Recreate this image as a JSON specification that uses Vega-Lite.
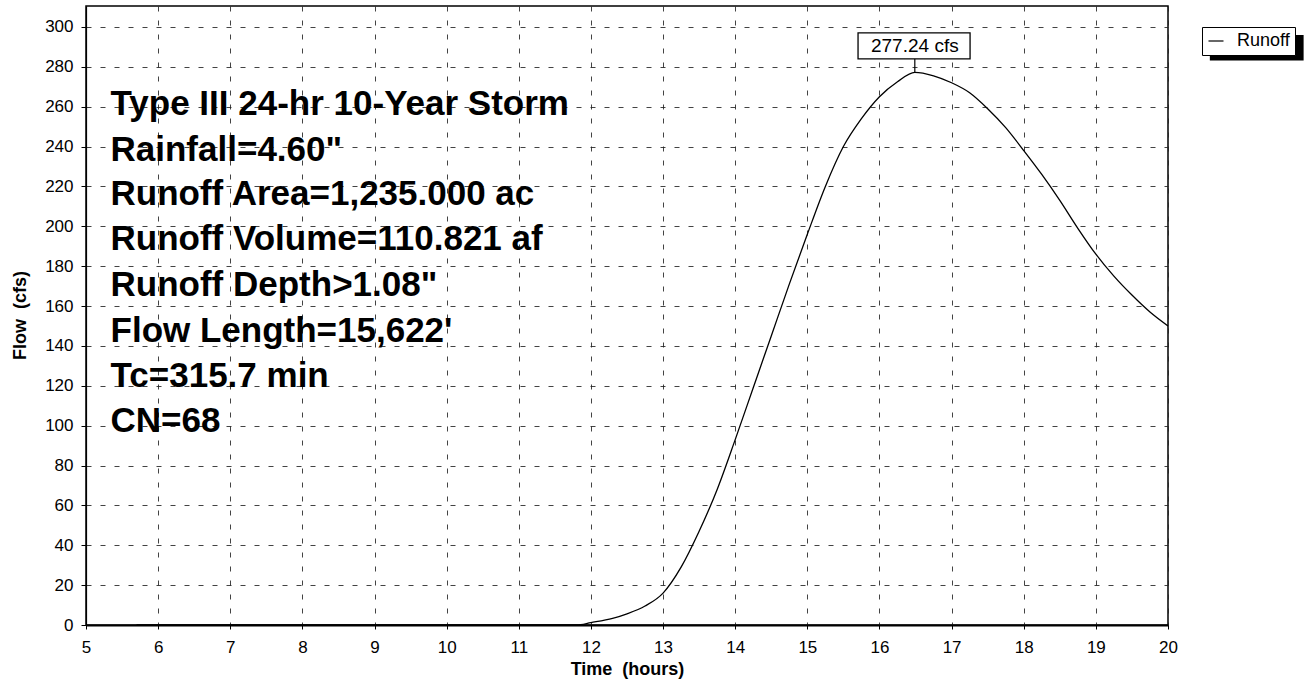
{
  "$schema": "https://vega.github.io/schema/vega-lite/v6.json",
  "width": 1082,
  "height": 619,
  "autosize": {"type": "none"},
  "padding": {"left": 86, "top": 6, "right": 136, "bottom": 58},
  "background": "#ffffff",
  "config": {
    "font": "Liberation Sans",
    "view": {"stroke": "#000000", "strokeWidth": 1.5},
    "axis": {
      "labelFont": "Liberation Sans",
      "titleFont": "Liberation Sans",
      "labelColor": "#000000",
      "titleColor": "#000000",
      "domainColor": "#000000",
      "tickColor": "#000000",
      "gridColor": "#222222",
      "gridDash": [5, 9],
      "gridOpacity": 0.85,
      "gridWidth": 1
    }
  },
  "datasets": {
    "curve": [
      {"t": 5.7, "flow": 0, "series": "Runoff"},
      {"t": 11.8, "flow": 0, "series": "Runoff"},
      {"t": 12.0, "flow": 1.2, "series": "Runoff"},
      {"t": 12.3, "flow": 3.3, "series": "Runoff"},
      {"t": 12.5, "flow": 5.6, "series": "Runoff"},
      {"t": 12.75, "flow": 9.5, "series": "Runoff"},
      {"t": 13.0, "flow": 16, "series": "Runoff"},
      {"t": 13.25, "flow": 29, "series": "Runoff"},
      {"t": 13.5, "flow": 47, "series": "Runoff"},
      {"t": 13.75, "flow": 68, "series": "Runoff"},
      {"t": 14.0, "flow": 93, "series": "Runoff"},
      {"t": 14.25, "flow": 119, "series": "Runoff"},
      {"t": 14.5, "flow": 145, "series": "Runoff"},
      {"t": 14.75, "flow": 171, "series": "Runoff"},
      {"t": 15.0, "flow": 196, "series": "Runoff"},
      {"t": 15.25, "flow": 220, "series": "Runoff"},
      {"t": 15.5, "flow": 240, "series": "Runoff"},
      {"t": 15.75, "flow": 254, "series": "Runoff"},
      {"t": 16.0, "flow": 265, "series": "Runoff"},
      {"t": 16.25, "flow": 272.5, "series": "Runoff"},
      {"t": 16.49, "flow": 277.24, "series": "Runoff"},
      {"t": 16.75, "flow": 275.5, "series": "Runoff"},
      {"t": 17.0, "flow": 272, "series": "Runoff"},
      {"t": 17.25, "flow": 267, "series": "Runoff"},
      {"t": 17.5, "flow": 259, "series": "Runoff"},
      {"t": 17.75, "flow": 249.5, "series": "Runoff"},
      {"t": 18.0, "flow": 238, "series": "Runoff"},
      {"t": 18.25, "flow": 226, "series": "Runoff"},
      {"t": 18.5, "flow": 213, "series": "Runoff"},
      {"t": 18.75, "flow": 199, "series": "Runoff"},
      {"t": 19.0, "flow": 186, "series": "Runoff"},
      {"t": 19.25, "flow": 175, "series": "Runoff"},
      {"t": 19.5, "flow": 165.5, "series": "Runoff"},
      {"t": 19.75, "flow": 157, "series": "Runoff"},
      {"t": 20.0, "flow": 150, "series": "Runoff"}
    ],
    "notes": [
      {"label": "Type III 24-hr 10-Year Storm", "tx": 5.34, "ty": 256},
      {"label": "Rainfall=4.60\"", "tx": 5.34, "ty": 233},
      {"label": "Runoff Area=1,235.000 ac", "tx": 5.34, "ty": 210.5},
      {"label": "Runoff Volume=110.821 af", "tx": 5.34, "ty": 188},
      {"label": "Runoff Depth>1.08\"", "tx": 5.34, "ty": 165},
      {"label": "Flow Length=15,622'", "tx": 5.34, "ty": 142},
      {"label": "Tc=315.7 min", "tx": 5.34, "ty": 119.5},
      {"label": "CN=68", "tx": 5.34, "ty": 97}
    ],
    "peak": [
      {"t": 16.49, "flow": 277.24, "label": "277.24 cfs", "bx1": 15.703, "bx2": 17.256, "by1": 284, "by2": 297, "ly": 290.5}
    ],
    "legendShadow": [
      {"sx1": 20.58, "sx2": 21.88, "sy1": 283.1, "sy2": 296}
    ]
  },
  "layer": [
    {
      "data": {"name": "legendShadow"},
      "mark": {"type": "rect", "fill": "#000000", "clip": false},
      "encoding": {
        "x": {"field": "sx1", "type": "quantitative"},
        "x2": {"field": "sx2"},
        "y": {"field": "sy1", "type": "quantitative"},
        "y2": {"field": "sy2"}
      }
    },
    {
      "data": {"name": "curve"},
      "mark": {"type": "line", "strokeWidth": 1.3, "interpolate": "monotone"},
      "encoding": {
        "x": {
          "field": "t", "type": "quantitative",
          "scale": {"domain": [5, 20], "nice": false, "zero": false},
          "axis": {
            "title": "Time \u00a0(hours)",
            "values": [5, 6, 7, 8, 9, 10, 11, 12, 13, 14, 15, 16, 17, 18, 19, 20],
            "format": "d",
            "labelFontSize": 17,
            "labelPadding": 10,
            "tickSize": 4,
            "domainWidth": 2,
            "titleFontSize": 18,
            "titleFontWeight": "bold",
            "titleX": 541,
            "titleY": 44,
            "titleBaseline": "middle",
            "titleAlign": "center",
            "labelFlush": false
          }
        },
        "y": {
          "field": "flow", "type": "quantitative",
          "scale": {"domain": [0, 310.5], "nice": false},
          "axis": {
            "title": "Flow \u00a0(cfs)",
            "values": [0, 20, 40, 60, 80, 100, 120, 140, 160, 180, 200, 220, 240, 260, 280, 300],
            "labelFontSize": 17,
            "labelPadding": 8,
            "tickSize": 5,
            "domainWidth": 1.2,
            "titleFontSize": 18,
            "titleFontWeight": "bold",
            "titleX": -66,
            "titleY": 309,
            "titleAngle": 270,
            "titleBaseline": "middle",
            "titleAlign": "center",
            "labelFlush": false
          }
        },
        "color": {
          "field": "series", "type": "nominal",
          "scale": {"domain": ["Runoff"], "range": ["#000000"]},
          "legend": {
            "title": null,
            "orient": "none",
            "legendX": 1116,
            "legendY": 21,
            "strokeColor": "#000000",
            "fillColor": "#ffffff",
            "padding": 5,
            "labelFontSize": 18,
            "labelColor": "#000000",
            "labelFont": "Liberation Sans",
            "labelOffset": 12,
            "symbolType": "stroke",
            "symbolSize": 225,
            "symbolStrokeWidth": 1.2,
            "symbolStrokeColor": "#000000"
          }
        }
      }
    },
    {
      "data": {"name": "notes"},
      "mark": {"type": "text", "align": "left", "baseline": "alphabetic", "fontSize": 35, "fontWeight": "bold", "font": "Liberation Sans", "color": "#000000"},
      "encoding": {
        "x": {"field": "tx", "type": "quantitative"},
        "y": {"field": "ty", "type": "quantitative"},
        "text": {"field": "label"}
      }
    },
    {
      "data": {"name": "peak"},
      "mark": {"type": "rule", "color": "#000000", "strokeWidth": 1.2},
      "encoding": {
        "x": {"field": "t", "type": "quantitative"},
        "y": {"field": "flow", "type": "quantitative"},
        "y2": {"field": "by1"}
      }
    },
    {
      "data": {"name": "peak"},
      "mark": {"type": "rect", "fill": "#ffffff", "stroke": "#000000", "strokeWidth": 1.3},
      "encoding": {
        "x": {"field": "bx1", "type": "quantitative"},
        "x2": {"field": "bx2"},
        "y": {"field": "by1", "type": "quantitative"},
        "y2": {"field": "by2"}
      }
    },
    {
      "data": {"name": "peak"},
      "mark": {"type": "text", "align": "center", "baseline": "middle", "fontSize": 19, "font": "Liberation Sans", "color": "#000000"},
      "encoding": {
        "x": {"field": "t", "type": "quantitative"},
        "y": {"field": "ly", "type": "quantitative"},
        "text": {"field": "label"}
      }
    }
  ]
}
